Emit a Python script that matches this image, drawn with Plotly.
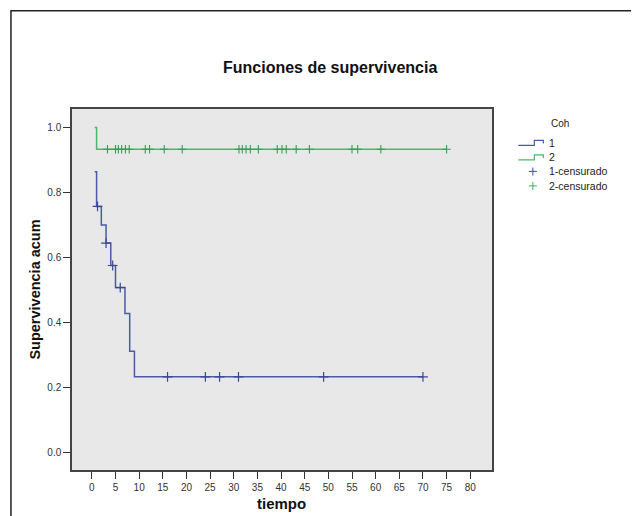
import plotly.graph_objects as go
import numpy as np

# ---- data ----
g1_times = [0.6, 1, 2, 3, 4, 5, 7, 8, 9, 70]
g1_surv = [0.864, 0.757, 0.700, 0.644, 0.575, 0.507, 0.427, 0.311, 0.232, 0.232]
g1_cens = [1.2, 3, 4.4, 6, 16, 24, 27, 31, 49, 70]

g2_times = [0.6, 1, 75]
g2_surv = [1.0, 0.933, 0.933]
g2_cens = [3.3, 5.0, 5.6, 6.3, 7.1, 7.9, 11.3, 12.2, 15.3, 19.1, 31.1, 31.8, 32.6,
           33.5, 35.2, 39.2, 40.2, 41.1, 43.2, 46.0, 55.0, 56.2, 61.1, 75.0]

x_ticks = list(range(0, 81, 5))
y_ticks = [0.0, 0.2, 0.4, 0.6, 0.8, 1.0]

BLUE = "#4A5AA8"
GREEN = "#48B96C"
FONT = "Liberation Sans, Arial, sans-serif"


def surv_at(times, surv, t):
    idx = np.searchsorted(times, t, side="right") - 1
    return surv[max(idx, 0)]


OFF = 8  # page body margin
W, H = 639 - OFF, 516 - OFF
# plot area in reference-page pixels
L, R, T, B = 72, 491.7, 108.5, 470


def px(x):
    return (x - L) / (R - L)


def py(y):
    return (B - y) / (B - T)


fig = go.Figure()
fig.add_trace(go.Scatter(x=g1_times, y=g1_surv, mode="lines", line=dict(color=BLUE, width=1.5, shape="hv"),
                         showlegend=False, hoverinfo="skip"))
fig.add_trace(go.Scatter(x=g2_times, y=g2_surv, mode="lines", line=dict(color=GREEN, width=1.5, shape="hv"),
                         showlegend=False, hoverinfo="skip"))
fig.add_trace(go.Scatter(x=g1_cens, y=[surv_at(g1_times, g1_surv, t) for t in g1_cens], mode="markers",
                         marker=dict(symbol="cross-thin", size=7, line=dict(color="#3A4890", width=1.2)),
                         showlegend=False, hoverinfo="skip"))
fig.add_trace(go.Scatter(x=g2_cens, y=[surv_at(g2_times, g2_surv, t) for t in g2_cens], mode="markers",
                         marker=dict(symbol="cross-thin", size=6, line=dict(color="#3A9A58", width=1.1)),
                         showlegend=False, hoverinfo="skip"))

shapes = []
# outer frame
shapes.append(dict(type="rect", xref="paper", yref="paper", x0=px(11), x1=px(650), y0=py(10), y1=py(530),
                   line=dict(color="#222", width=1.5), fillcolor="rgba(0,0,0,0)", layer="below"))


def legend_step(y, color):
    pts = [(518, y + 2.5), (534, y + 2.5), (534, y - 2.5), (543, y - 2.5), (543, y + 0.5)]
    path = "M " + " L ".join(f"{px(a):.5f},{py(b):.5f}" for a, b in pts)
    return dict(type="path", xref="paper", yref="paper", path=path, line=dict(color=color, width=1.2))


def legend_plus(x, y, color):
    return [dict(type="line", xref="paper", yref="paper", x0=px(x - 4), x1=px(x + 4), y0=py(y), y1=py(y),
                 line=dict(color=color, width=1.1)),
            dict(type="line", xref="paper", yref="paper", x0=px(x), x1=px(x), y0=py(y - 4), y1=py(y + 4),
                 line=dict(color=color, width=1.1))]


shapes.append(legend_step(142.5, BLUE))
shapes.append(legend_step(157, GREEN))
shapes += legend_plus(532.5, 171, BLUE)
shapes += legend_plus(532.5, 185.5, GREEN)


def ann(text, x, y, size, color="#222", xanchor="center"):
    return dict(text=text, x=px(x), y=py(y), xref="paper", yref="paper", showarrow=False,
                xanchor=xanchor, yanchor="middle", font=dict(size=size, color=color, family=FONT))


annotations = [
    ann("Coh", 560, 123, 10),
    ann("1", 547, 142.5, 10.5, xanchor="left"),
    ann("2", 547, 157, 10.5, xanchor="left"),
    ann("1-censurado", 547, 171, 10.5, xanchor="left"),
    ann("2-censurado", 547, 185.5, 10.5, xanchor="left"),
    ann("<b>Funciones de supervivencia</b>", 330, 67, 16, color="#111"),
    ann("<b>tiempo</b>", 281, 504, 15, color="#111"),
]

fig.update_layout(
    width=W, height=H, autosize=False,
    margin=dict(l=L - OFF, r=639 - R, t=T - OFF, b=516 - B, pad=0),
    paper_bgcolor="white", plot_bgcolor="#E8E8E8",
    shapes=shapes, annotations=annotations,
    font=dict(family=FONT, size=10, color="#333"),
)
fig.update_xaxes(range=[-4.2, 84.6], tickvals=x_ticks, ticks="outside", ticklen=7, tickwidth=1.2,
                 tickcolor="#333", showgrid=False, zeroline=False, showline=True, linecolor="#444",
                 linewidth=1.5, mirror=True, tickfont=dict(size=10, color="#333"), automargin=False)
fig.update_yaxes(range=[-0.055, 1.057], tickvals=y_ticks, tickformat=".1f", ticks="outside", ticklen=7,
                 tickwidth=1.2, tickcolor="#333", showgrid=False, zeroline=False, showline=True,
                 linecolor="#444", linewidth=1.5, mirror=True, tickfont=dict(size=10, color="#333"),
                 automargin=False,
                 title=dict(text="<b>Supervivencia acum</b>", font=dict(size=14.5, color="#111"), standoff=3))

fig.write_html("out.html")
